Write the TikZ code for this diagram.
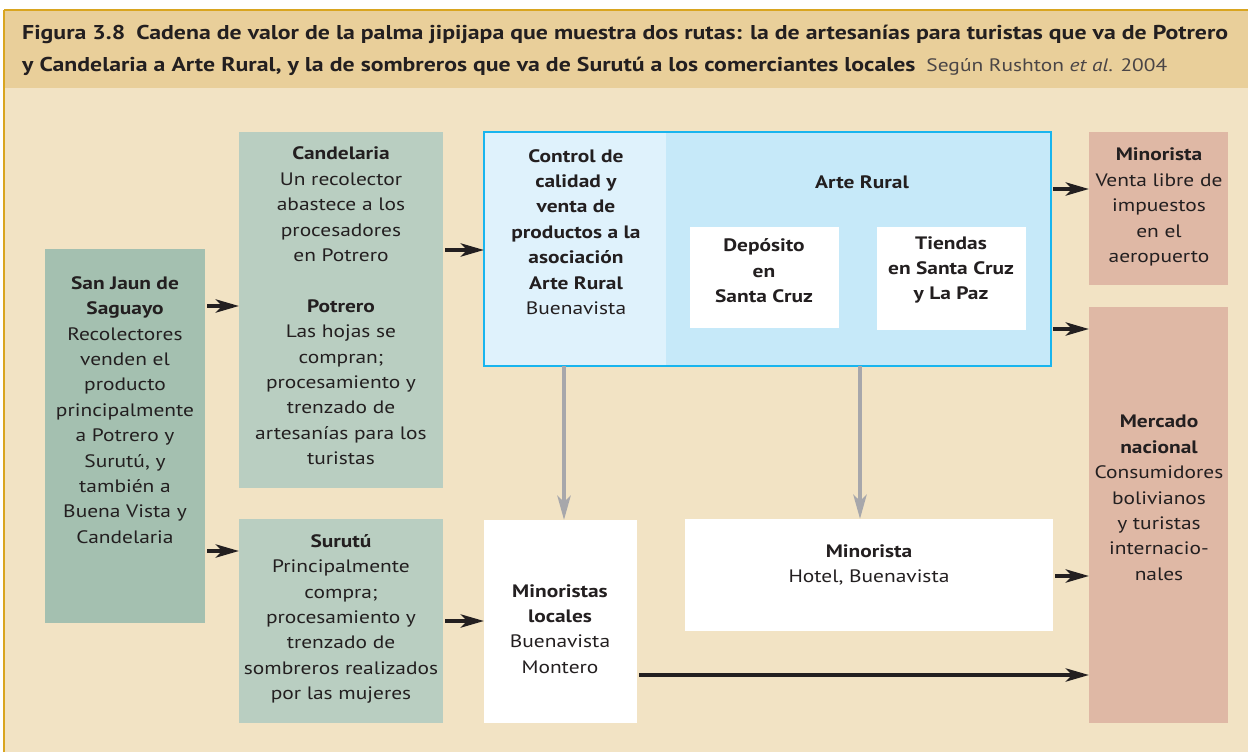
\documentclass[tikz,border=0pt]{standalone}
\usepackage{fontspec}
\setmainfont{PT Sans}[FakeStretch=1.19]
\usetikzlibrary{arrows.meta,calc}
\definecolor{ink}{HTML}{231F20}
\definecolor{hdr}{HTML}{E9CF9A}
\definecolor{bodyc}{HTML}{F2E3C4}
\definecolor{gold}{HTML}{D9A520}
\definecolor{sjc}{HTML}{A4C0B0}
\definecolor{grn}{HTML}{B9CEC1}
\definecolor{cyanb}{HTML}{19B5EE}
\definecolor{cyl}{HTML}{DFF2FC}
\definecolor{cyr}{HTML}{C6E9F9}
\definecolor{pink}{HTML}{DFB8A5}
\definecolor{grayarr}{HTML}{A7A7AB}
\definecolor{cite}{HTML}{4A4546}
\begin{document}
\begin{tikzpicture}[x=1pt,y=-1pt,
  box/.style={anchor=north west, inner sep=0pt, outer sep=0pt, draw=none},
  txt/.style={align=center, inner sep=0pt, text=ink, font=\fontsize{18}{25.4}\selectfont},
  blk/.style={draw=ink, line width=4.5pt, -{Stealth[length=23pt,width=13pt,inset=6pt]}, shorten <=2pt},
  gra/.style={draw=grayarr, line width=4.5pt, -{Stealth[length=24pt,width=13pt,inset=6pt]}}
]
\useasboundingbox (0,0) rectangle (1248,752);
\fill[white] (0,0) rectangle (1248,752);
\fill[hdr] (4,10) rectangle (1248,88);
\fill[bodyc] (4,88) rectangle (1248,752);
\draw[gold, line width=1.5pt] (4,10) -- (1248,10);
\draw[gold, line width=1.5pt] (4,10) -- (4,752);

% title
\node[anchor=base west, inner sep=0pt, text=ink, font=\bfseries\fontsize{20}{24}\selectfont] (t1) at (22,40)
 {Figura 3.8\hspace{0.55em}Cadena de valor de la palma jipijapa que muestra dos rutas: la de artesanías para turistas que va de Potrero};
\node[anchor=base west, inner sep=0pt, text=ink, font=\bfseries\fontsize{20}{24}\selectfont] (t2) at (22,72)
 {y Candelaria a Arte Rural, y la de sombreros que va de Surutú a los comerciantes locales\hspace{0.55em}{\mdseries\color{cite}\fontsize{18}{24}\selectfont Según Rushton \textit{et al}. 2004}};

% boxes
\node[box, fill=sjc, minimum width=160pt, minimum height=374pt] (sj) at (45,249) {};
\node[box, fill=grn, minimum width=204pt, minimum height=356pt] (cand) at (239,132) {};
\node[box, fill=grn, minimum width=204pt, minimum height=204pt] (sur) at (239,519) {};
\node[box, fill=cyr, minimum width=567pt, minimum height=234pt] (arte) at (484,132) {};
\fill[cyl] (arte.north west) rectangle ($(arte.south west)+(182,0)$);
\draw[cyanb, line width=2pt] (arte.north west) rectangle (arte.south east);
\node[box, fill=white, minimum width=149pt, minimum height=101pt] (dep) at (690,227) {};
\node[box, fill=white, minimum width=149pt, minimum height=103pt] (tie) at (877,227) {};
\node[box, fill=white, minimum width=153pt, minimum height=203pt] (ml) at (484,520) {};
\node[box, fill=white, minimum width=368pt, minimum height=112pt] (mh) at (685,519) {};
\node[box, fill=pink, minimum width=139pt, minimum height=153pt] (mv) at (1089,132) {};
\node[box, fill=pink, minimum width=139pt, minimum height=416pt] (mn) at (1089,307) {};

% texts
\node[txt] (sjT) at (125,410) {\textbf{San Jaun de}\\\textbf{Saguayo}\\Recolectores\\venden el\\producto\\principalmente\\a Potrero y\\Surutú, y\\también a\\Buena Vista y\\Candelaria};
\node[txt] (candT) at (341,306) {\textbf{Candelaria}\\Un recolector\\abastece a los\\procesadores\\en Potrero\\[25.4pt]\textbf{Potrero}\\Las hojas se\\compran;\\procesamiento y\\trenzado de\\artesanías para los\\turistas};
\node[txt] (ctrlT) at (576,232) {\textbf{Control de}\\\textbf{calidad y}\\\textbf{venta de}\\\textbf{productos a la}\\\textbf{asociación}\\\textbf{Arte Rural}\\Buenavista};
\node[txt] (arteT) at (862,182) {\textbf{Arte Rural}};
\node[txt] (depT) at (764,271) {\textbf{Depósito}\\\textbf{en}\\\textbf{Santa Cruz}};
\node[txt] (tieT) at (951,270) {\textbf{Tiendas}\\\textbf{en Santa Cruz}\\\textbf{y La Paz}};
\node[txt] (mvT) at (1159,207) {\textbf{Minorista}\\Venta libre de\\impuestos\\en el\\aeropuerto};
\node[txt] (mnT) at (1159,498) {\textbf{Mercado}\\\textbf{nacional}\\Consumidores\\bolivianos\\y turistas\\internacio-\\nales};
\node[txt] (surT) at (341,619) {\textbf{Surutú}\\Principalmente\\compra;\\procesamiento y\\trenzado de\\sombreros realizados\\por las mujeres};
\node[txt] (mlT) at (560,629) {\textbf{Minoristas}\\\textbf{locales}\\Buenavista\\Montero};
\node[txt] (mhT) at (869,565) {\textbf{Minorista}\\Hotel, Buenavista};

% arrow levels
\coordinate (y189) at (0,189);
\coordinate (y250) at (0,250);
\coordinate (y306) at (0,306);
\coordinate (y329) at (0,329);
\coordinate (y551) at (0,551);
\coordinate (y576) at (0,576);
\coordinate (y621) at (0,621);
\coordinate (y675) at (0,675);
\coordinate (x564) at (564,0);
\coordinate (x860) at (860,0);

\draw[blk] (sj.east |- y306) -- (cand.west |- y306);
\draw[blk] (sj.east |- y551) -- (sur.west |- y551);
\draw[blk] (cand.east |- y250) -- (arte.west |- y250);
\draw[blk] (sur.east |- y621) -- (ml.west |- y621);
\draw[blk] (arte.east |- y189) -- (mv.west |- y189);
\draw[blk] (arte.east |- y329) -- (mn.west |- y329);
\draw[blk] (mh.east |- y576) -- (mn.west |- y576);
\draw[blk] (ml.east |- y675) -- (mn.west |- y675);
\draw[gra] (x564 |- arte.south) -- (x564 |- ml.north);
\draw[gra] (x860 |- arte.south) -- (x860 |- mh.north);
\end{tikzpicture}
\end{document}
